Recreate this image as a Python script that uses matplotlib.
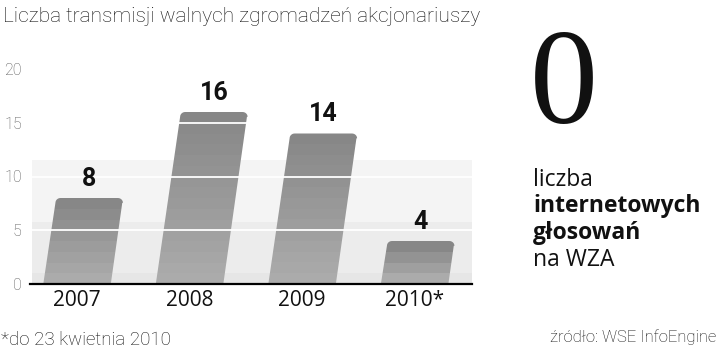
import numpy as np
import matplotlib.pyplot as plt
from matplotlib.patches import Polygon

# dane
lata = ["2007", "2008", "2009", "2010*"]
transmisje = [8, 16, 14, 4]
yticks = [0, 5, 10, 15, 20]

tytul = "Liczba transmisji walnych zgromadzeń akcjonariuszy"
przypis = "*do 23 kwietnia 2010"
zrodlo = "źródło: WSE InfoEngine"
duza_liczba = "0"

LEKKI = ["Roboto", "DejaVu Sans"]

W, H = 720, 352
fig = plt.figure(figsize=(W / 100, H / 100), dpi=100)
ax = fig.add_axes([30 / W, (H - 284) / H, 442 / W, (284 - 69) / H])
ax.set_xlim(-0.418, 3.51)
ax.set_ylim(0, 20)

# tło
ax.axhspan(0, 11.5, xmin=0.005, xmax=1, color="#f4f4f4", lw=0, zorder=0)
ax.axhspan(0, 5.8, xmin=0.005, xmax=1, color="#ececec", lw=0, zorder=0)
ax.axhspan(0, 1.0, xmin=0.005, xmax=1, color="#e6e6e6", lw=0, zorder=0)

skos = 0.0135   # przesunięcie góry słupka w prawo
szer = 0.3
rx, ry = 0.045, 0.45


def ksztalt(i, h):
    x0, x1 = i - szer, i + szer
    pts = [(x0, 0), (x1, 0), (x1 + skos * (h - ry), h - ry)]
    t = np.linspace(0, np.pi / 2, 8)
    cx, cy = x1 + skos * h - rx, h - ry
    pts += [(cx + rx * np.cos(a), cy + ry * np.sin(a)) for a in t]
    cx = x0 + skos * h + rx
    pts += [(cx - rx * np.sin(a), cy + ry * np.cos(a)) for a in t]
    return pts


for i, h in enumerate(transmisje):
    poly = Polygon(ksztalt(i, h), closed=True, fc="none", ec="none")
    ax.add_patch(poly)
    n = max(int(h), 3)
    grad = np.linspace(0.67, 0.53, n).reshape(-1, 1)
    im = ax.imshow(grad, cmap="gray", vmin=0, vmax=1, origin="lower",
                   extent=[i - szer - 0.01, i + szer + skos * h + 0.01, 0, h],
                   aspect="auto", interpolation="nearest", zorder=2)
    im.set_clip_path(poly)
    ax.text(i + skos * h, h + 1.8, str(h), ha="center", va="center",
            fontsize=18, fontweight="bold", family=LEKKI, color="#111111",
            zorder=6)

ax.set_xlim(-0.418, 3.51)
ax.set_ylim(0, 20)

for y in yticks[1:-1]:
    ax.axhline(y, color="white", lw=1.3, zorder=3)

for s in ["top", "right", "left"]:
    ax.spines[s].set_visible(False)
ax.spines["bottom"].set_linewidth(1.6)
ax.spines["bottom"].set_zorder(5)
ax.set_yticks(yticks)
ax.set_yticklabels([str(v) for v in yticks], fontsize=11.5, color="#555555",
                   family=LEKKI, fontweight="light")
ax.set_xticks(range(len(lata)))
ax.set_xticklabels(lata, fontsize=15, color="#111111",
                   family=["Open Sans", "DejaVu Sans"])
ax.tick_params(length=0)
ax.tick_params(axis="y", pad=6)
ax.tick_params(axis="x", pad=4)

fig.text(3 / W, 1 - 17 / H, tytul, fontsize=15, family=LEKKI,
         fontweight="light", color="#111111", va="center", ha="left")
fig.text(1 / W, 1 - 340 / H, przypis, fontsize=13.5, family=LEKKI,
         fontweight="light", color="#111111", va="center", ha="left")
fig.text(716 / W, 1 - 337 / H, zrodlo, fontsize=12, family=LEKKI,
         fontweight="light", color="#111111", va="center", ha="right")

fig.text(564 / W, 1 - 90 / H, duza_liczba, fontsize=98,
         family=["Liberation Serif", "DejaVu Serif"], color="#111111",
         ha="center", va="center")
linie = [("liczba", "normal"), ("internetowych", "bold"),
         ("głosowań", "bold"), ("na WZA", "normal")]
for k, (t, w) in enumerate(linie):
    fig.text(533 / W, 1 - (180 + 26.5 * k) / H, t, fontsize=16.5, fontweight=w,
             family=["Open Sans", "DejaVu Sans"], color="#111111",
             ha="left", va="center")

fig.savefig("out.png", dpi=100)
